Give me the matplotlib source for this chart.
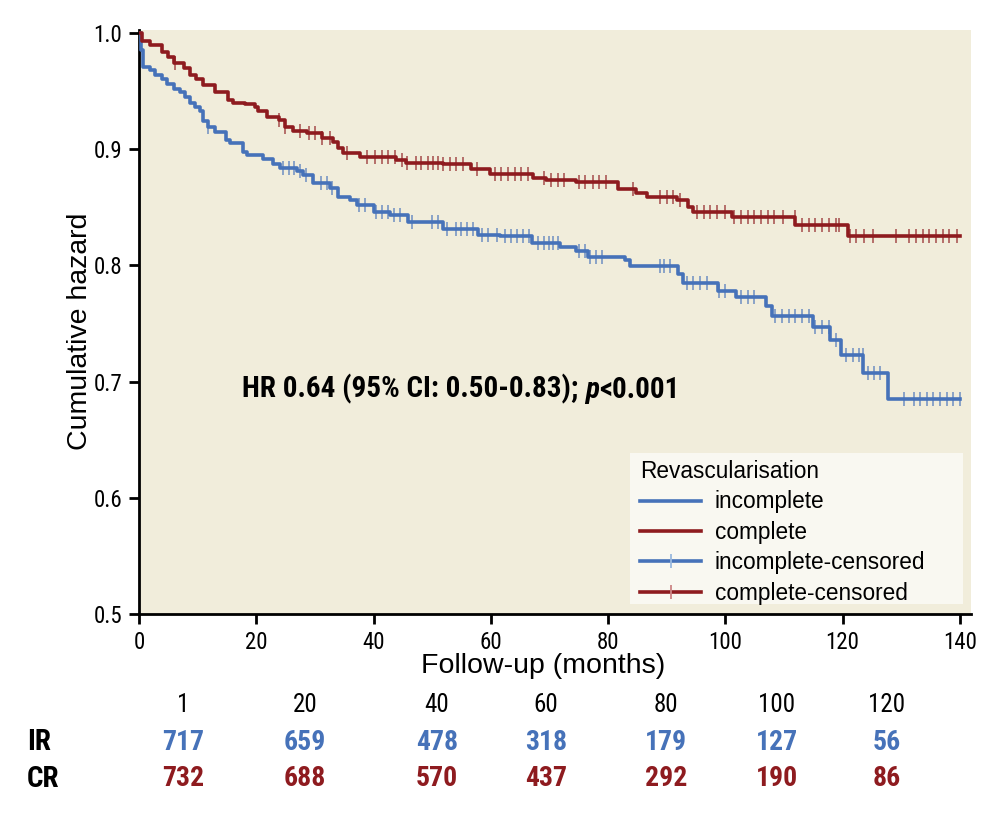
import numpy as np
import matplotlib
matplotlib.use("Agg")
import matplotlib.pyplot as plt
from matplotlib import font_manager
from matplotlib.lines import Line2D
from matplotlib.patches import Rectangle

# step times (months) and survival after each step
ir_times = [0, 0.3, 0.6, 1.9, 2.7, 3.9, 4.7, 5.9, 7.0, 7.8, 8.7, 9.5, 10.4, 11.0, 11.8,
            13.0, 14.9, 15.5, 17.8, 18.4, 21.2, 22.9, 24.0, 26.9, 28.0, 29.7, 32.6, 34.0,
            36.0, 37.1, 40.0, 42.8, 45.9, 51.9, 57.9, 61.6, 67.0, 71.8, 74.6, 76.6, 82.9,
            83.7, 92.0, 92.8, 98.8, 101.9, 107.0, 107.9, 115.0, 117.8, 119.8, 123.5, 127.8, 140]
ir_surv = [1.0, 0.985, 0.971, 0.968, 0.964, 0.960, 0.956, 0.952, 0.949, 0.945, 0.940, 0.936,
           0.933, 0.924, 0.919, 0.915, 0.908, 0.905, 0.898, 0.895, 0.892, 0.887, 0.884, 0.881,
           0.878, 0.871, 0.867, 0.859, 0.856, 0.852, 0.846, 0.843, 0.837, 0.831, 0.826, 0.825,
           0.819, 0.816, 0.812, 0.8075, 0.805, 0.7995, 0.793, 0.7846, 0.778, 0.773, 0.765,
           0.7567, 0.7473, 0.7358, 0.7229, 0.7077, 0.6848, 0.6848]

cr_times = [0, 0.45, 1.9, 3.9, 5.0, 5.9, 7.6, 8.7, 9.8, 11.0, 13.0, 15.2, 16.1, 18.1, 19.8,
            20.3, 21.8, 23.8, 24.9, 26.3, 28.6, 31.2, 33.1, 34.0, 34.8, 37.7, 43.9, 45.6,
            51.9, 56.7, 59.9, 67.2, 69.5, 74.6, 81.7, 84.8, 86.6, 91.7, 93.7, 94.5, 101.1,
            111.9, 121.0, 140]
cr_surv = [1.0, 0.993, 0.990, 0.984, 0.979, 0.974, 0.970, 0.964, 0.960, 0.955, 0.9495, 0.942,
           0.940, 0.939, 0.936, 0.933, 0.928, 0.925, 0.919, 0.916, 0.914, 0.910, 0.906, 0.901,
           0.8965, 0.8936, 0.891, 0.8884, 0.887, 0.8827, 0.8787, 0.8755, 0.8735, 0.8715,
           0.8655, 0.862, 0.8586, 0.856, 0.850, 0.8462, 0.842, 0.8348, 0.8253, 0.8253]

ir_censored = [11.8, 24.5, 25.5, 26.5, 27.5, 28.5, 31, 32, 33, 37.5, 38.5, 40.5, 41.5, 42.5,
               43.5, 44.5, 46.6, 50, 51, 52.5, 54, 55, 56, 57, 58.5, 59.5, 61, 62.5, 63.5,
               64.5, 65.5, 66.5, 68, 69, 70, 70.6, 71.5, 75, 76, 77, 78, 79, 88.8, 89.6, 90.5,
               93.4, 94.5, 95.7, 96.8, 99, 100, 102.6, 103.8, 104.9, 108.5, 109.6, 110.8,
               111.9, 113, 114.2, 115.3, 116.5, 117.6, 118.8, 120.5, 121.7, 122.8, 123.4,
               124.3, 125.4, 126.3, 130.4, 132.1, 133.2, 134.4, 135.5, 136.6, 137.8, 138.9, 140]
cr_censored = [6.2, 23.8, 24.9, 27.5, 29, 30, 31.2, 32.5, 35.4, 38.9, 40.3, 41.4, 42.5, 43.7,
               44.8, 45.7, 47.3, 48.1, 49.3, 50.1, 51, 51.9, 53, 54.1, 55.3, 57.6, 60.7, 61.8,
               63, 64.1, 65.2, 66.4, 69, 70.2, 71.4, 72.5, 75, 76, 77.5, 78.5, 79.6, 84.3,
               88.8, 90, 91, 92.3, 95.1, 96.3, 97.4, 98.5, 100, 101.4, 102.6, 103.8, 104.9,
               106, 107.2, 108.3, 109.8, 111.8, 113, 114.2, 115.3, 116.5, 117.6, 118.8, 119.4,
               121.2, 122.3, 123.7, 125.2, 129.1, 131.4, 132.5, 133.7, 134.8, 135.9, 137.1,
               138.2, 139.5]

risk_times = ["1", "20", "40", "60", "80", "100", "120"]
risk_ir = [717, 659, 478, 318, 179, 127, 56]
risk_cr = [732, 688, 570, 437, 292, 190, 86]
risk_x_px = [183, 305, 437, 546, 666, 777, 887]

BLUE = "#4672b9"
RED = "#8e1b1f"
BG = "#f1eddb"

installed = {f.name for f in font_manager.fontManager.ttflist}
narrow = next((n for n in ["Roboto Condensed", "Liberation Sans Narrow", "DejaVu Sans Condensed"]
               if n in installed), "Liberation Sans")
plain = "Liberation Sans"

fig = plt.figure(figsize=(10.04, 8.15), dpi=100)
W, H = 1004, 815
ax = fig.add_axes([139 / W, 1 - 614 / H, (971 - 139) / W, (614 - 30) / H])
ax.set_facecolor(BG)


def surv_at(times, surv, t):
    idx = np.searchsorted(times, t, side="right") - 1
    return np.asarray(surv)[idx]


ax.step(ir_times, ir_surv, where="post", color=BLUE, lw=2.6, zorder=3)
ax.step(cr_times, cr_surv, where="post", color=RED, lw=2.6, zorder=3)
ax.plot(ir_censored, surv_at(ir_times, ir_surv, ir_censored), ls="none", marker="|",
        ms=10, mew=1.3, color=BLUE, alpha=0.65, zorder=4)
ax.plot(cr_censored, surv_at(cr_times, cr_surv, cr_censored), ls="none", marker="|",
        ms=10, mew=1.3, color=RED, alpha=0.65, zorder=4)

ax.set_xlim(0, 141.9)
ax.set_ylim(0.5, 1.0026)
ax.set_xticks(np.arange(0, 141, 20))
ax.set_yticks([0.5, 0.6, 0.7, 0.8, 0.9, 1.0])
ax.set_yticklabels(["0.5", "0.6", "0.7", "0.8", "0.9", "1.0"])
for s in ["top", "right"]:
    ax.spines[s].set_visible(False)
for s in ["left", "bottom"]:
    ax.spines[s].set_linewidth(2)
ax.tick_params(direction="out", length=7, width=2, pad=5, labelsize=16.5)
for lab in ax.get_xticklabels() + ax.get_yticklabels():
    lab.set_family(narrow)

ax.set_ylabel("Cumulative hazard", family=plain, fontsize=20.5)
ax.set_xlabel("Follow-up (months)", family=plain, fontsize=20.5)
ax.yaxis.set_label_coords(-0.055, 0.484)
ax.xaxis.set_label_coords(0.4856, -0.067)

# hazard ratio annotation
t1 = ax.text(17.6, 0.686, "HR 0.64 (95% CI: 0.50-0.83); ", family=narrow,
             fontweight="bold", fontsize=21, va="baseline")
t2 = ax.annotate("p", xy=(1, 0), xycoords=t1, va="bottom", family=narrow,
                 fontweight="bold", style="italic", fontsize=21)
ax.annotate("<0.001", xy=(1, 0), xycoords=t2, va="bottom", family=narrow,
            fontweight="bold", fontsize=21)

# legend background box
fig.patches.append(Rectangle((630 / W, 1 - 604 / H), 333 / W, 151 / H,
                             transform=fig.transFigure, facecolor="#f9f8f1",
                             edgecolor="none", zorder=5))
handles = [
    Line2D([], [], color=BLUE, lw=2.6),
    Line2D([], [], color=RED, lw=2.6),
    Line2D([], [], color=BLUE, lw=2.6, marker="|", ms=10, mew=1.3, mec=(0.6, 0.72, 0.87)),
    Line2D([], [], color=RED, lw=2.6, marker="|", ms=10, mew=1.3, mec=(0.8, 0.52, 0.52)),
]
leg = fig.legend(handles, ["incomplete", "complete", "incomplete-censored", "complete-censored"],
                 title="Revascularisation", loc="upper left",
                 bbox_to_anchor=(640 / W, 1 - 460 / H),
                 borderaxespad=0, frameon=False, handlelength=2.7, handletextpad=0.6,
                 labelspacing=0.33, borderpad=0, alignment="left", numpoints=1,
                 prop={"family": plain, "size": 16.3},
                 title_fontproperties={"family": plain, "size": 16.3})
leg.set_zorder(6)

# numbers at risk
for lab, x in zip(risk_times, risk_x_px):
    fig.text(x / W, 1 - 705 / H, lab, ha="center", va="center", family=narrow, fontsize=18)
fig.text(27 / W, 1 - 742 / H, "IR", ha="left", va="center", family=narrow,
         fontweight="bold", fontsize=21)
fig.text(27 / W, 1 - 779 / H, "CR", ha="left", va="center", family=narrow,
         fontweight="bold", fontsize=21)
for v, x in zip(risk_ir, risk_x_px):
    fig.text(x / W, 1 - 742 / H, str(v), ha="center", va="center", family=narrow,
             fontweight="bold", fontsize=20, color=BLUE)
for v, x in zip(risk_cr, risk_x_px):
    fig.text(x / W, 1 - 779 / H, str(v), ha="center", va="center", family=narrow,
             fontweight="bold", fontsize=20, color=RED)

fig.savefig("out.png", dpi=100)
